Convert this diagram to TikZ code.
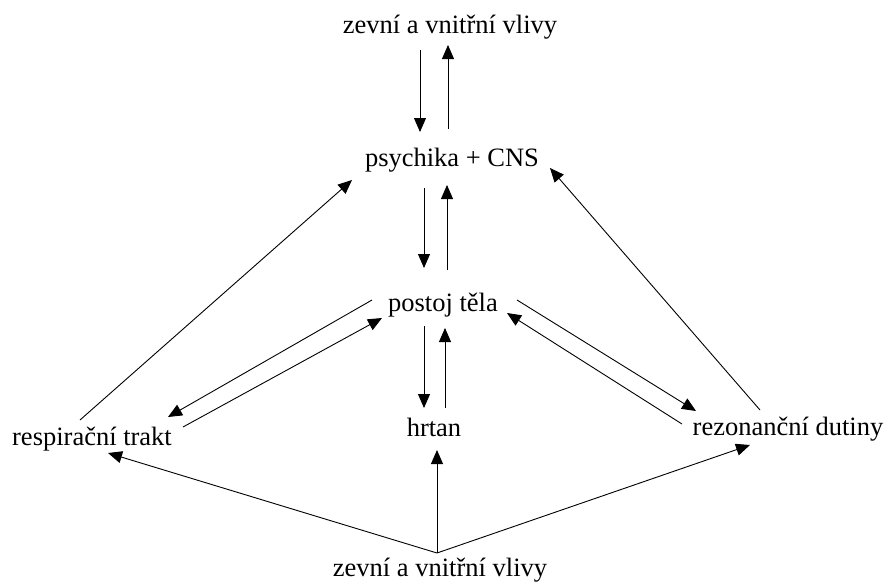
\documentclass[tikz,border=0pt]{standalone}
\usepackage{fontspec}
\setmainfont{Liberation Serif}
\usetikzlibrary{arrows.meta,calc}
\begin{document}
\begin{tikzpicture}[x=1pt,y=-1pt,
  lbl/.style={anchor=base,inner sep=0pt,font=\fontsize{26.5}{30}\selectfont},
  arr/.style={line width=0.9pt,-{Triangle[length=14pt,width=12pt]}}]
\useasboundingbox (0,0) rectangle (887,582);
\node[lbl] (top) at (450,33) {zevní a vnitřní vlivy};
\node[lbl] (psy) at (452,166) {psychika + CNS};
\node[lbl] (pos) at (443,311) {postoj těla};
\node[lbl] (hrt) at (434,436) {hrtan};
\node[lbl] (res) at (92,445) {respirační trakt};
\node[lbl] (rez) at (788,435) {rezonanční dutiny};
\node[lbl] (bot) at (440,576) {zevní a vnitřní vlivy};
\coordinate (src) at ($(bot.base)+(-3,-23)$);
% top <-> psychika
\draw[arr] ($(top.base)+(-30,17)$) -- ($(psy.base)+(-32,-34)$);
\draw[arr] ($(psy.base)+(-4,-37)$) -- ($(top.base)+(-2,12)$);
% psychika <-> postoj
\draw[arr] ($(psy.base)+(-28,22)$) -- ($(pos.base)+(-19,-43)$);
\draw[arr] ($(pos.base)+(4,-41)$) -- ($(psy.base)+(-5,19)$);
% postoj <-> hrtan
\draw[arr] ($(pos.base)+(-19,15)$) -- ($(hrt.base)+(-10,-28)$);
\draw[arr] ($(hrt.base)+(11,-28)$) -- ($(pos.base)+(2,17)$);
% to psychika
\draw[arr] ($(res.base)+(-12,-25)$) -- ($(psy.base)+(-100,14)$);
\draw[arr] ($(rez.base)+(-28,-25)$) -- ($(psy.base)+(98,2)$);
% postoj <-> respiracni
\draw[arr] ($(pos.base)+(-71,-11)$) -- ($(res.base)+(76,-28)$);
\draw[arr] ($(res.base)+(91,-18)$) -- ($(pos.base)+(-61,7)$);
% postoj <-> rezonancni
\draw[arr] ($(pos.base)+(74,-11)$) -- ($(rez.base)+(-92,-24)$);
\draw[arr] ($(rez.base)+(-106,-11)$) -- ($(pos.base)+(64,2)$);
% bottom
\draw[arr] (src) -- ($(res.base)+(16,8)$);
\draw[arr] (src) -- ($(hrt.base)+(3,14)$);
\draw[arr] (src) -- ($(rez.base)+(-38,10)$);
\end{tikzpicture}
\end{document}
